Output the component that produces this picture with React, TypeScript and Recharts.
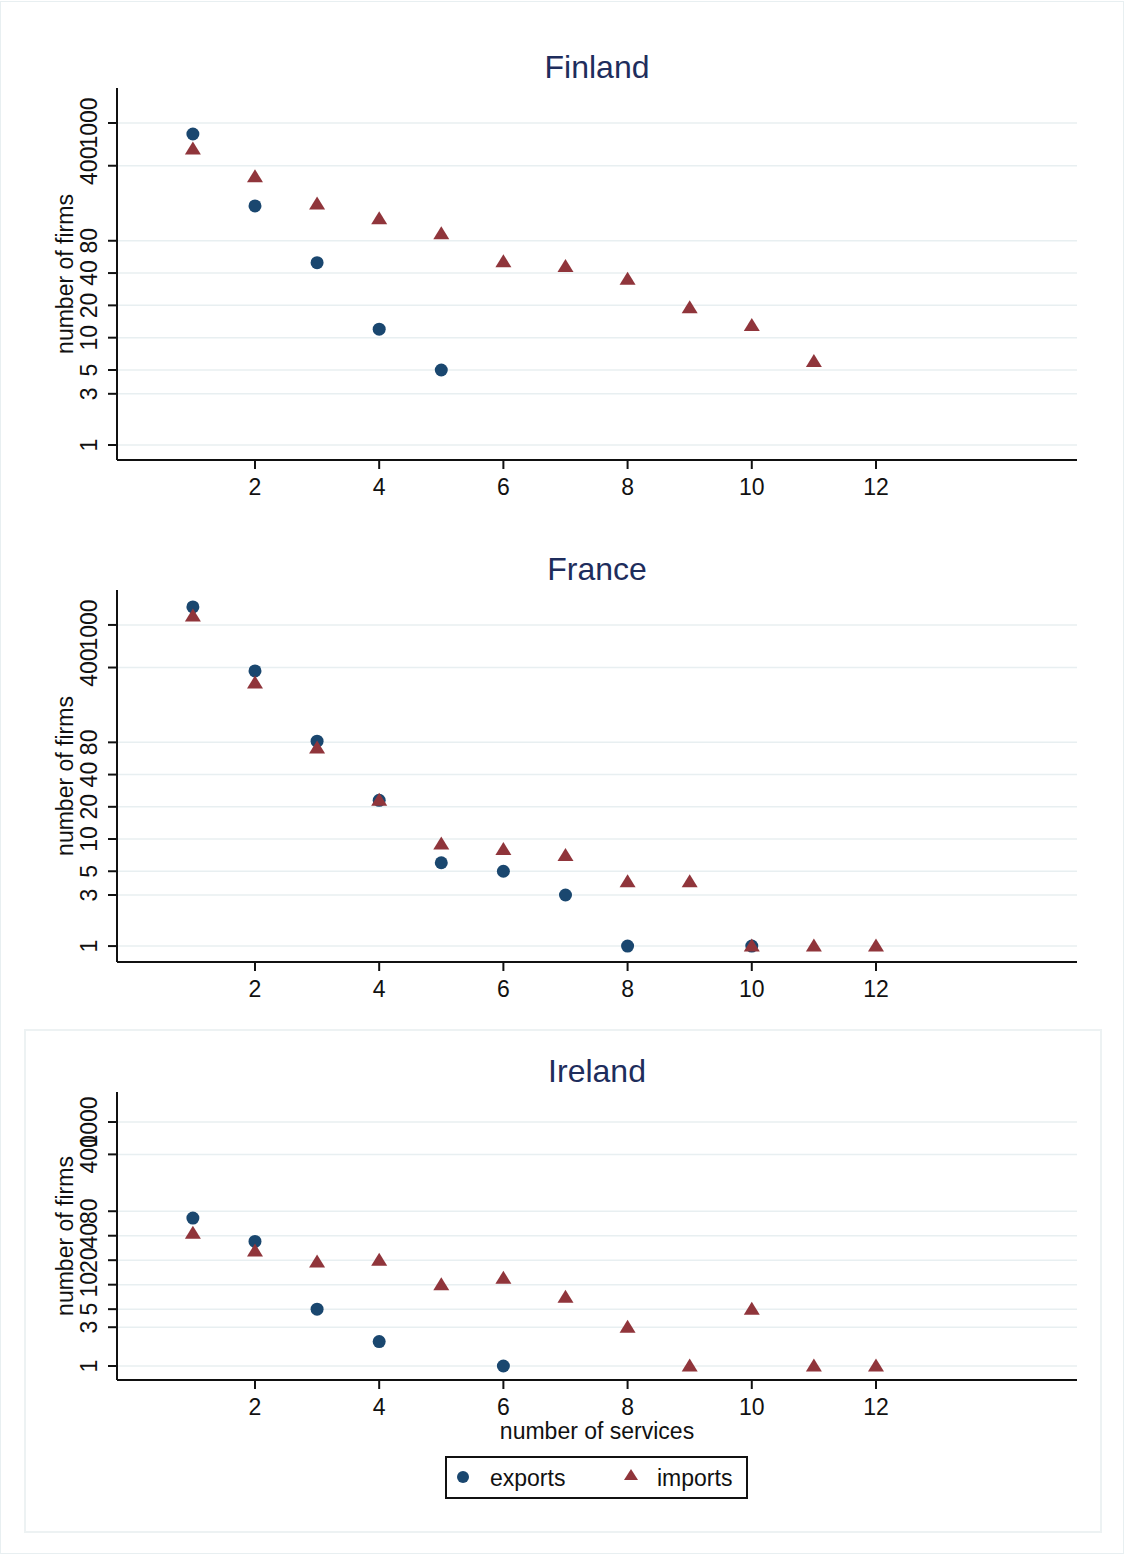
// three stacked scatter panels: firms by number of services traded, log y axis
import { ScatterChart, Scatter, XAxis, YAxis, CartesianGrid } from "recharts";

const finlandExportN = [1, 2, 3, 4, 5];
const finlandExportFirms = [790, 169, 50, 12, 5];
const finlandImportN = [1, 2, 3, 4, 5, 6, 7, 8, 9, 10, 11];
const finlandImportFirms = [574, 315, 176, 128, 93, 51, 46, 35, 19, 13, 6];

const franceExportN = [1, 2, 3, 4, 5, 6, 7, 8, 10];
const franceExportFirms = [1474, 372, 82, 23, 6, 5, 3, 1, 1];
const franceImportN = [1, 2, 3, 4, 5, 6, 7, 8, 9, 10, 11, 12];
const franceImportFirms = [1213, 287, 71, 23, 9, 8, 7, 4, 4, 1, 1, 1];

const irelandExportN = [1, 2, 3, 4, 6];
const irelandExportFirms = [66, 34, 5, 2, 1];
const irelandImportN = [1, 2, 3, 4, 5, 6, 7, 8, 9, 10, 11, 12];
const irelandImportFirms = [43, 26, 19, 20, 10, 12, 7, 3, 1, 5, 1, 1];

const xTicks = [2, 4, 6, 8, 10, 12];
const yTicks = [1, 3, 5, 10, 20, 40, 80, 400, 1000];

const EXPORT_COLOR = "#1a476f";
const IMPORT_COLOR = "#90353b";
const GRID = "#e8eff1";
const FONT = "'Liberation Sans', Arial, sans-serif";

function pairs(xs: number[], ys: number[]) {
  return xs.map((n, i) => ({ n, firms: ys[i] }));
}

const Dot = (p: any) => <circle cx={p.cx} cy={p.cy} r={6.5} fill={EXPORT_COLOR} />;
const Tri = (p: any) => (
  <path
    d={`M${p.cx},${p.cy - 7.5} L${p.cx + 8},${p.cy + 5.5} L${p.cx - 8},${p.cy + 5.5} Z`}
    fill={IMPORT_COLOR}
  />
);

// rotated tick labels like the stata output, baseline sits just left of the tick marks
const YTick = (p: any) => (
  <text
    x={97}
    y={p.y}
    transform={`rotate(-90 97 ${p.y})`}
    textAnchor="middle"
    fontSize={23}
    fontFamily={FONT}
    fill="#111"
  >
    {p.payload.value}
  </text>
);

type PanelProps = {
  title: string;
  top: number;
  plotH: number;
  xAxisH: number;
  yDomain: [number, number];
  exports: { n: number; firms: number }[];
  imports: { n: number; firms: number }[];
  titleY: number;
};

function Panel({ title, top, plotH, xAxisH, yDomain, exports, imports, titleY }: PanelProps) {
  const mt = 48;
  const h = mt + plotH + xAxisH;
  return (
    <>
      <div
        style={{
          position: "absolute",
          left: 597,
          top: titleY,
          transform: "translate(-50%, -50%)",
          fontSize: 32,
          color: "#1e2d5c",
          fontFamily: FONT,
          whiteSpace: "nowrap",
        }}
      >
        {title}
      </div>
      <div
        style={{
          position: "absolute",
          left: 65,
          top: top + mt + plotH / 2,
          transform: "translate(-50%, -50%) rotate(-90deg)",
          fontSize: 23,
          color: "#111",
          fontFamily: FONT,
          whiteSpace: "nowrap",
        }}
      >
        number of firms
      </div>
      <div style={{ position: "absolute", left: 0, top }}>
        <ScatterChart width={1125} height={h} margin={{ top: mt, right: 48, bottom: 0, left: 17 }}>
          <CartesianGrid vertical={false} stroke={GRID} strokeWidth={1.5} syncWithTicks />
          <XAxis
            type="number"
            dataKey="n"
            domain={[-0.222, 15.237]}
            allowDataOverflow
            ticks={xTicks}
            interval={0}
            height={xAxisH}
            tickSize={9}
            tickMargin={10}
            stroke="#111"
            strokeWidth={2}
            tick={{ fontSize: 23, fontFamily: FONT, fill: "#111" }}
          />
          <YAxis
            type="number"
            dataKey="firms"
            scale="log"
            domain={yDomain}
            allowDataOverflow
            ticks={yTicks}
            interval={0}
            width={100}
            tickSize={9}
            stroke="#111"
            strokeWidth={2}
            tick={<YTick />}
          />
          <Scatter data={exports} shape={Dot} isAnimationActive={false} />
          <Scatter data={imports} shape={Tri} isAnimationActive={false} />
        </ScatterChart>
      </div>
    </>
  );
}

export default function App() {
  return (
    <div
      style={{
        position: "absolute",
        left: 0,
        top: 0,
        width: 1125,
        height: 1555,
        background: "#fff",
        fontFamily: FONT,
      }}
    >
      {/* faint outer frame */}
      <div
        style={{
          position: "absolute",
          left: 0,
          top: 1,
          width: 1122,
          height: 1551,
          border: "1.5px solid #e8eff1",
        }}
      />
      {/* the last panel carries its own light box around plot + legend */}
      <div
        style={{
          position: "absolute",
          left: 24,
          top: 1029,
          width: 1074,
          height: 500,
          border: "2px solid #edf2f3",
        }}
      />
      <Panel
        title="Finland"
        top={40}
        plotH={372}
        xAxisH={50}
        yDomain={[0.725, 2120]}
        exports={pairs(finlandExportN, finlandExportFirms)}
        imports={pairs(finlandImportN, finlandImportFirms)}
        titleY={67}
      />
      <Panel
        title="France"
        top={542}
        plotH={372}
        xAxisH={50}
        yDomain={[0.71, 2120]}
        exports={pairs(franceExportN, franceExportFirms)}
        imports={pairs(franceImportN, franceImportFirms)}
        titleY={569}
      />
      <Panel
        title="Ireland"
        top={1044}
        plotH={288}
        xAxisH={70}
        yDomain={[0.673, 2340]}
        exports={pairs(irelandExportN, irelandExportFirms)}
        imports={pairs(irelandImportN, irelandImportFirms)}
        titleY={1071}
      />
      <div
        style={{
          position: "absolute",
          left: 597,
          top: 1431,
          transform: "translate(-50%, -50%)",
          fontSize: 23,
          color: "#111",
          whiteSpace: "nowrap",
        }}
      >
        number of services
      </div>
      {/* legend box */}
      <div
        style={{
          position: "absolute",
          left: 445,
          top: 1456,
          width: 299,
          height: 39,
          border: "2px solid #111",
          fontSize: 23,
          color: "#111",
        }}
      >
        <svg width={20} height={20} style={{ position: "absolute", left: 6, top: 9 }}>
          <circle cx={10} cy={10} r={6} fill={EXPORT_COLOR} />
        </svg>
        <span style={{ position: "absolute", left: 43, top: 7 }}>exports</span>
        <svg width={20} height={20} style={{ position: "absolute", left: 174, top: 8 }}>
          <path d="M10,3 L17,14 L3,14 Z" fill={IMPORT_COLOR} />
        </svg>
        <span style={{ position: "absolute", left: 210, top: 7 }}>imports</span>
      </div>
    </div>
  );
}
